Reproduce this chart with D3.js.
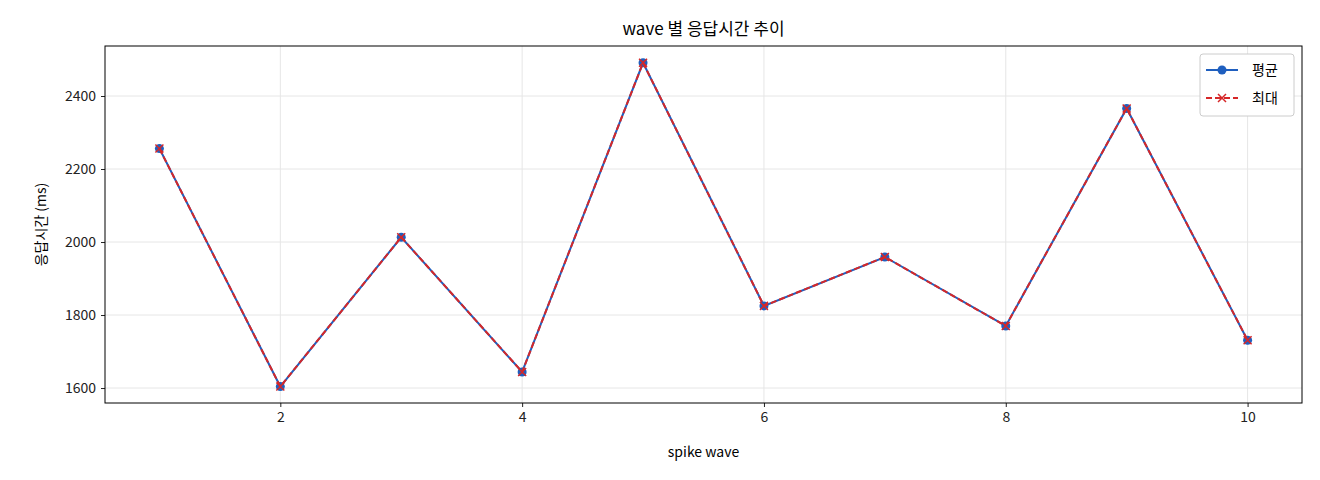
<!DOCTYPE html>
<html><head><meta charset="utf-8">
<script src="https://cdn.jsdelivr.net/npm/d3@7"></script>
<style>body{margin:0;background:#fff;font-family:"Noto Sans CJK KR","DejaVu Sans",sans-serif;}</style>
</head><body><svg id="c" width="1320" height="480"></svg>
<script>
const waves=[1,2,3,4,5,6,7,8,9,10];
const avgVals=[2256,1604,2013,1644,2491,1825,1959,1770,2366,1731];
const maxVals=[2256,1604,2013,1644,2491,1825,1959,1770,2366,1731];
const xTicks=[2,4,6,8,10];
const yTicks=[1600,1800,2000,2200,2400];
const seriesNames=["평균","최대"];
const svg=d3.select("#c");
const L=105,R=1302,T=46,B=403;
const x=d3.scaleLinear().domain([0.55,10.45]).range([L,R]);
const y=d3.scaleLinear().domain([1559,2537]).range([B,T]);
const g=svg.append("g");
g.selectAll(".gx").data(xTicks).join("line").attr("x1",d=>x(d)).attr("x2",d=>x(d)).attr("y1",T).attr("y2",B).attr("stroke","#e6e6e6");
g.selectAll(".gy").data(yTicks).join("line").attr("y1",d=>y(d)).attr("y2",d=>y(d)).attr("x1",L).attr("x2",R).attr("stroke","#e6e6e6");
const xa=svg.append("g").attr("transform",`translate(0,${B})`).call(d3.axisBottom(x).tickValues(xTicks).tickFormat(d3.format("d")).tickSize(4).tickPadding(5));
const ya=svg.append("g").attr("transform",`translate(${L},0)`).call(d3.axisLeft(y).tickValues(yTicks).tickFormat(d3.format("d")).tickSize(4).tickPadding(5));
[xa,ya].forEach(a=>{a.select(".domain").remove();a.selectAll("text").attr("font-size",14).attr("fill","#222").attr("font-family","Noto Sans CJK KR");a.selectAll("line").attr("stroke","#222");});
svg.append("rect").attr("x",L).attr("y",T).attr("width",R-L).attr("height",B-T).attr("fill","none").attr("stroke","#000");
const line=d3.line().x((d,i)=>x(waves[i])).y(d=>y(d));
const blue="#1f5fbf",red="#d62728";
svg.append("path").attr("d",line(avgVals)).attr("fill","none").attr("stroke",blue).attr("stroke-width",2);
svg.selectAll(".dot").data(avgVals).join("circle").attr("cx",(d,i)=>x(waves[i])).attr("cy",d=>y(d)).attr("r",4.5).attr("fill",blue);
svg.append("path").attr("d",line(maxVals)).attr("fill","none").attr("stroke",red).attr("stroke-width",2).attr("stroke-dasharray","6,3");
const cross=(s,cx,cy)=>{s.append("path").attr("d",`M${cx-4},${cy-4}L${cx+4},${cy+4}M${cx-4},${cy+4}L${cx+4},${cy-4}`).attr("stroke",red).attr("stroke-width",1.5);};
maxVals.forEach((d,i)=>cross(svg,x(waves[i]),y(d)));
svg.append("text").attr("x",(L+R)/2).attr("y",35).attr("text-anchor","middle").attr("font-size",17).text("wave 별 응답시간 추이");
svg.append("text").attr("x",(L+R)/2).attr("y",457).attr("text-anchor","middle").attr("font-size",14).text("spike wave");
svg.append("text").attr("transform",`translate(46,${(T+B)/2}) rotate(-90)`).attr("text-anchor","middle").attr("font-size",14).text("응답시간 (ms)");
const lg=svg.append("g");
lg.append("rect").attr("x",1200).attr("y",54).attr("width",94).attr("height",62).attr("rx",3).attr("fill","#fff").attr("stroke","#ccc");
lg.append("line").attr("x1",1206).attr("x2",1238).attr("y1",70).attr("y2",70).attr("stroke",blue).attr("stroke-width",2);
lg.append("circle").attr("cx",1222).attr("cy",70).attr("r",4.5).attr("fill",blue);
lg.append("line").attr("x1",1206).attr("x2",1238).attr("y1",98).attr("y2",98).attr("stroke",red).attr("stroke-width",2).attr("stroke-dasharray","6,3");
cross(lg,1222,98);
lg.append("text").attr("x",1252).attr("y",75).attr("font-size",14).text(seriesNames[0]);
lg.append("text").attr("x",1252).attr("y",103).attr("font-size",14).text(seriesNames[1]);
</script></body></html>
